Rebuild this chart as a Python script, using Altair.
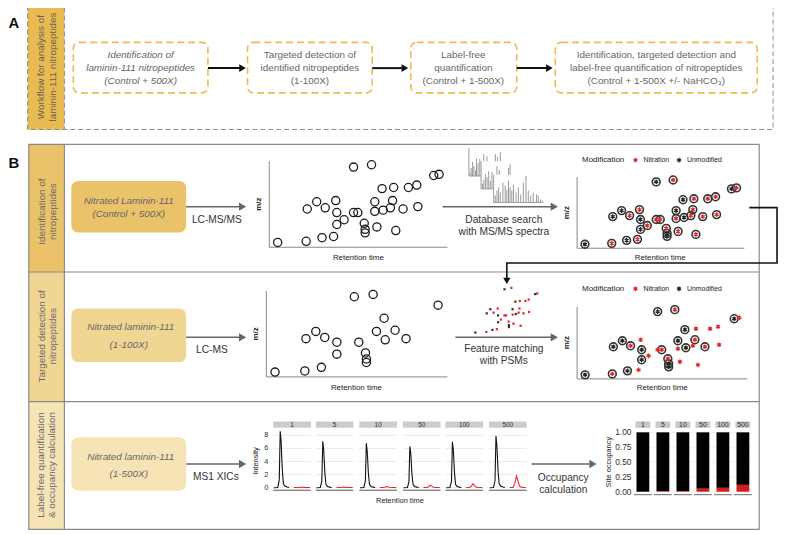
import altair as alt
import pandas as pd

FONT = "Liberation Sans"

# ---------------- data ----------------
# peptide features: relative retention time / relative m/z (0-100), modification, seen in targeted LC-MS
feat_rt = [4.7, 20.7, 29.6, 36.1, 21.3, 26.6, 31.4, 37.3, 37.9, 42.0, 37.9,
           47.3, 49.7, 47.3, 57.4, 53.3, 53.8, 53.8, 60.4, 59.2, 59.2, 63.9,
           63.3, 68.0, 69.2, 69.8, 71.0, 75.1, 78.1, 82.8, 83.4, 92.3, 95.3]
feat_mz = [5.6, 6.9, 11.1, 12.5, 44.4, 52.8, 45.8, 54.2, 40.3, 31.9, 26.4,
           40.3, 40.3, 93.1, 95.8, 27.8, 20.8, 16.7, 23.6, 52.8, 41.7, 43.1,
           68.1, 45.8, 54.2, 69.4, 19.4, 44.4, 69.4, 72.2, 47.2, 83.3, 84.7]
feat_mod = ["U", "N", "U", "N", "U", "U", "N", "N", "U", "N", "U",
            "N", "N", "U", "N", "N", "U", "U", "N", "U", "N", "U",
            "U", "N", "N", "N", "N", "N", "N", "N", "N", "U", "N"]
feat_detected = [1, 1, 1, 0, 1, 1, 1, 0, 1, 0, 1,
                 0, 1, 1, 1, 1, 1, 1, 0, 1, 0, 1,
                 1, 0, 1, 0, 0, 1, 0, 0, 0, 1, 0]

# MS/MS spectra: relative m/z and relative intensity
spec1_mz = [2, 4.6, 7.4, 10, 13.4, 15.4, 18.6, 22, 30, 36.6, 53.4, 58, 63.4]
spec1_int = [14, 29, 50, 36, 21, 64, 46, 61, 79, 71, 79, 68, 86]
spec2_mz = [2.6, 5.4, 8.6, 12, 15.4, 18.6, 22, 32, 36.6, 55.4, 58.6]
spec2_int = [18, 32, 54, 43, 64, 29, 61, 82, 68, 75, 89]
spec3_mz = [3.3, 6.7, 10, 13.3, 18.7, 23.3, 26.7, 30, 33.3, 36.7, 40, 45.3,
            50, 54.7, 60, 65.3, 70, 74.7, 80, 86.7, 90, 94.7, 98.7]
spec3_int = [25, 43, 54, 36, 71, 61, 46, 79, 54, 43, 64, 36,
             54, 29, 71, 96, 43, 25, 36, 29, 25, 11, 7]

# MS1 XICs per nitration level
conc = ["1", "5", "10", "50", "100", "500"]
xic_rt_unmod = [0.2, 1.2, 1.6, 1.85, 2.1, 2.4, 2.7, 3.1, 3.7, 4.2]
xic_unmod = {
    "1":   [0, 0.05, 1.2, 8.6, 7.0, 2.8, 0.6, 0.25, 0.1, 0.05],
    "5":   [0, 0.05, 1.0, 7.1, 5.8, 2.3, 0.5, 0.2, 0.1, 0.05],
    "10":  [0, 0.05, 1.0, 6.8, 5.5, 2.2, 0.5, 0.2, 0.1, 0.05],
    "50":  [0, 0.05, 0.9, 6.3, 5.2, 2.1, 0.5, 0.2, 0.1, 0.05],
    "100": [0, 0.05, 1.0, 7.0, 5.7, 2.3, 0.5, 0.2, 0.1, 0.05],
    "500": [0, 0.05, 1.1, 7.9, 6.4, 2.6, 0.6, 0.25, 0.1, 0.05],
}
xic_rt_nitro = [5.5, 6.4, 6.9, 7.3, 7.7, 8.1, 8.8, 9.8]
xic_nitro = {
    "1":   [0.05, 0.05, 0.06, 0.08, 0.07, 0.06, 0.05, 0.05],
    "5":   [0.05, 0.05, 0.07, 0.10, 0.08, 0.06, 0.05, 0.05],
    "10":  [0.05, 0.05, 0.10, 0.18, 0.12, 0.07, 0.05, 0.05],
    "50":  [0.03, 0.05, 0.20, 0.40, 0.25, 0.08, 0.04, 0.03],
    "100": [0.03, 0.05, 0.25, 0.60, 0.35, 0.10, 0.04, 0.03],
    "500": [0.03, 0.06, 0.70, 1.80, 1.10, 0.25, 0.05, 0.03],
}
xic_ticks = [0, 2, 4, 6, 8]

# site occupancy (nitrated fraction)
occupancy = [0.0, 0.01, 0.01, 0.05, 0.065, 0.115]
occ_ticks = [0, 0.25, 0.5, 0.75, 1.0]
occ_labels = ["0.00", "0.25", "0.50", "0.75", "1.00"]

# ---------------- canvas helpers (layout) ----------------
W, H = 779, 526
OX, OY = 8, 8
GOLD1, GOLD2, GOLD3 = "#E9C26A", "#F0D593", "#F6E4B7"
RED = "#E3262B"
ASTER = "M0,-1L0,1M-0.87,-0.5L0.87,0.5M-0.87,0.5L0.87,-0.5"


def cx(f):
    return alt.X(f, type="quantitative", axis=None,
                 scale=alt.Scale(domain=[OX, OX + W], range=[0, W], nice=False, zero=False))


def cy(f):
    return alt.Y(f, type="quantitative", axis=None,
                 scale=alt.Scale(domain=[OY, OY + H], range=[0, H], nice=False, zero=False))


def lin(f, d0, d1, r0, r1, off, ch):
    sc = alt.Scale(domain=[d0, d1], range=[r0 - off, r1 - off], nice=False, zero=False)
    return ch(f, type="quantitative", axis=None, scale=sc)


layers = []


def texts(rows, **kw):
    df = pd.DataFrame(rows, columns=["x", "y", "t"])
    base = dict(font=FONT, baseline="middle", align="center", color="#333", fontSize=10)
    base.update(kw)
    layers.append(alt.Chart(df).mark_text(**base).encode(x=cx("x"), y=cy("y"), text="t:N"))


def rects(rows, **kw):
    df = pd.DataFrame(rows, columns=["x", "x2", "y", "y2"])
    layers.append(alt.Chart(df).mark_rect(**kw).encode(x=cx("x"), x2="x2:Q", y=cy("y"), y2="y2:Q"))


def rules(rows, **kw):
    df = pd.DataFrame(rows, columns=["x", "x2", "y", "y2"])
    layers.append(alt.Chart(df).mark_rule(**kw).encode(x=cx("x"), x2="x2:Q", y=cy("y"), y2="y2:Q"))


def points(rows, **kw):
    df = pd.DataFrame(rows, columns=["x", "y"])
    layers.append(alt.Chart(df).mark_point(opacity=1, **kw).encode(x=cx("x"), y=cy("y")))


def arrows(rows, color, width, size):
    rules([(a, b - 5, y, y) for a, b, y in rows], color=color, strokeWidth=width)
    points([(b - 4, y) for a, b, y in rows], shape="triangle-right", filled=True, color=color, size=size)


# ---------------- panel A ----------------
rects([(28, 781, 2, 128)], fillOpacity=0, stroke="#8c8c8c", strokeWidth=1, strokeDash=[5, 3])
rects([(28, 65, 2, 128)], fill="#E8BB52", stroke="#8c8c8c", strokeWidth=1, strokeDash=[5, 3])
texts([(41, 65, "Workflow for analysis of"), (54, 65, "laminin-111 nitropeptides")],
      angle=270, color="#6b604c", fontSize=10)
boxA = [(74, 210), (250, 376), (415, 522), (561, 765)]
rects([(a, b, 40, 91) for a, b in boxA], fill="white", stroke="#EDBB50", strokeWidth=1.6,
      strokeDash=[7, 4], cornerRadius=6)
arrows([(210, 249, 66), (376, 413, 66), (522, 559, 66)], "#111", 2, 60)
texts([(142, 53, "Identification of"), (142, 66, "laminin-111 nitropeptides"),
       (142, 79, "(Control + 500X)")], color="#666", fontStyle="italic")
texts([(313, 53, "Targeted detection of"), (313, 66, "identified nitropeptides"), (313, 79, "(1-100X)"),
       (468, 53, "Label-free"), (468, 66, "quantification"), (468, 79, "(Control + 1-500X)"),
       (663, 53, "Identification, targeted detection and"),
       (663, 66, "label-free quantification of nitropeptides"),
       (663, 79, "(Control + 1-500X +/- NaHCO\u2083)")], color="#666")
texts([(8.5, 20, "A"), (8.5, 162, "B")], align="left", fontWeight="bold", fontSize=15, color="#111")

# ---------------- panel B frame ----------------
rects([(29, 65, 143, 272)], fill=GOLD1)
rects([(29, 65, 272, 403)], fill=GOLD2)
rects([(29, 65, 403, 532)], fill=GOLD3)
rects([(29, 767, 143, 532)], fillOpacity=0, stroke="#8a8a8a", strokeWidth=1.2)
rules([(29, 767, 272, 272), (29, 767, 403, 403), (65, 65, 143, 532)], color="#8a8a8a", strokeWidth=1.2)
texts([(42, 211, "Identification of"), (53, 211, "nitropeptides"),
       (42, 337, "Targeted detection of"), (53, 337, "nitropeptides"),
       (41, 467, "Label-free quantification"), (52, 467, "& occupancy calculation")],
      angle=270, color="#6a6a6a", fontSize=10)
rects([(72, 188, 180, 232)], fill=GOLD1, cornerRadius=7)
rects([(72, 188, 309, 363)], fill=GOLD2, cornerRadius=7)
rects([(72, 188, 439, 493)], fill=GOLD3, cornerRadius=7)
texts([(130, 200, "Nitrated Laminin-111"), (130, 213, "(Control + 500X)"),
       (132, 328, "Nitrated laminin-111"), (130, 346, "(1-100X)"),
       (132, 459, "Nitrated laminin-111"), (130, 476, "(1-500X)")],
      color="#666", fontStyle="italic")
arrows([(188, 249, 206), (188, 249, 338), (188, 249, 466),
        (447, 564, 206), (460, 564, 338), (537, 603, 466)], "#666", 1.5, 70)
texts([(219, 219, "LC-MS/MS"), (214, 351, "LC-MS"), (218, 479, "MS1 XICs"),
       (509, 220, "Database search"), (509, 232, "with MS/MS spectra"),
       (509, 350, "Feature matching"), (509, 362, "with PSMs"),
       (569, 480, "Occupancy"), (569, 492, "calculation")], fontSize=10.3)

# connector from identification to targeted detection
con = pd.DataFrame({"x": [757, 785, 785, 512, 512], "y": [207, 207, 263, 263, 280], "o": [0, 1, 2, 3, 4]})
layers.append(alt.Chart(con).mark_line(color="#111", strokeWidth=1.6).encode(x=cx("x"), y=cy("y"), order="o:Q"))
points([(512, 281)], shape="triangle-down", filled=True, color="#111", size=55)

# ---------------- scatter panels ----------------
feat = pd.DataFrame({"rt": feat_rt, "mz": feat_mz, "mod": feat_mod, "det": feat_detected})


def scatter(df, xr, yr, **mk):
    layers.append(alt.Chart(df).mark_point(**mk).encode(
        x=lin("rt", 0, 100, xr[0], xr[1], OX, alt.X),
        y=lin("mz", 0, 100, yr[0], yr[1], OY, alt.Y)))


def frame(x0, x1, yb, yt, lab_x, lab_y):
    rules([(x0, x0, yt, yb), (x0, x1, yb, yb)], color="#888", strokeWidth=1)
    texts([(x0 - 10, (yt + yb) / 2, "m/z")], angle=270, fontSize=8, fontWeight="bold", color="#222")
    texts([(lab_x, lab_y, "Retention time")], fontSize=8, color="#222")


def legend(y):
    texts([(588, y, "Modification")], align="left", fontSize=8, color="#222")
    texts([(650, y, "Nitration"), (694, y, "Unmodified")], align="left", fontSize=7, color="#222")
    points([(642, y)], shape=ASTER, filled=False, color=RED, size=22, strokeWidth=1.3)
    points([(686, y)], shape=ASTER, filled=False, color="#222", size=22, strokeWidth=1.3)


# row 1 left: all features
frame(272, 452, 247, 160, 362, 258)
scatter(feat, (272, 452), (247, 160), shape="circle", filled=False, size=68, strokeWidth=1.3,
        color="#1a1a1a", opacity=1)
# row 1 right: identified with modification
frame(583, 752, 248, 176, 667, 258)
legend(159)
scatter(feat, (583, 752), (248, 176), shape="circle", filled=False, size=62, strokeWidth=1.6,
        color="#333", opacity=1)
scatter(feat[feat["mod"] == "N"], (583, 752), (248, 176), shape=ASTER, filled=False, size=22,
        strokeWidth=1.3, color=RED, opacity=1)
scatter(feat[feat["mod"] == "U"], (583, 752), (248, 176), shape=ASTER, filled=False, size=22,
        strokeWidth=1.3, color="#222", opacity=1)
# row 2 left: detected features
frame(269, 452, 378, 291, 360, 389)
scatter(feat[feat["det"] == 1], (269, 457), (378, 291), shape="circle", filled=False, size=68,
        strokeWidth=1.3, color="#1a1a1a", opacity=1)
# row 2 middle: PSM feature dots
for m, col in (("N", RED), ("U", "#333")):
    scatter(feat[feat["mod"] == m], (477, 546), (336, 286), shape="square", filled=True, size=5,
            color=col, opacity=1)
# row 2 right
frame(583, 755, 380, 307, 669, 389)
legend(289)
scatter(feat[feat["det"] == 1], (583, 755), (380, 307), shape="circle", filled=False, size=62,
        strokeWidth=1.6, color="#333", opacity=1)
scatter(feat[feat["mod"] == "N"], (583, 755), (380, 307), shape=ASTER, filled=False, size=22,
        strokeWidth=1.3, color=RED, opacity=1)
scatter(feat[feat["mod"] == "U"], (583, 755), (380, 307), shape=ASTER, filled=False, size=22,
        strokeWidth=1.3, color="#222", opacity=1)

# ---------------- stacked MS/MS spectra ----------------
spectra = [(spec1_mz, spec1_int, 473.7, 175.0), (spec2_mz, spec2_int, 486.0, 188.0),
           (spec3_mz, spec3_int, 498.7, 201.7)]
for k, (smz, sint, L0, B0) in enumerate(spectra):
    if k > 0:
        rects([(L0, L0 + 50, B0 - 28, B0)], fill="white")
    sdf = pd.DataFrame({"mz": smz, "i": sint, "z": [0] * len(smz)})
    layers.append(alt.Chart(sdf).mark_rule(color="#9a9a9a", strokeWidth=1).encode(
        x=lin("mz", 0, 100, L0, L0 + 50, OX, alt.X),
        y=lin("i", 0, 100, B0, B0 - 28, OY, alt.Y), y2="z:Q"))
    rules([(L0, L0, B0 - 28, B0), (L0, L0 + 50, B0, B0)], color="#999", strokeWidth=1)

# ---------------- XIC small multiples ----------------
xic_x = [276, 319, 363, 407, 450, 494]
XW = 38
for i, c in enumerate(conc):
    p = xic_x[i]
    grid = pd.DataFrame({"v": xic_ticks})
    layers.append(alt.Chart(grid).mark_rule(color="#e2e2e2", strokeWidth=0.8).encode(
        y=lin("v", 0, 8, 490, 437, OY, alt.Y), x=alt.value(p - OX), x2=alt.value(p + XW - OX)))
    for rts, vals, col in ((xic_rt_unmod, xic_unmod[c], "#111"), (xic_rt_nitro, xic_nitro[c], RED)):
        d = pd.DataFrame({"rt": rts, "i": vals})
        layers.append(alt.Chart(d).mark_line(color=col, strokeWidth=1.1).encode(
            x=lin("rt", 0, 10, p, p + XW, OX, alt.X),
            y=lin("i", 0, 8, 490, 437, OY, alt.Y)))
rects([(p, p + XW, 423, 429.5) for p in xic_x], fill="#cccccc")
texts([(p + XW / 2, 426.3, c) for p, c in zip(xic_x, conc)], fontSize=6.5, color="#333")
rules([(p, p + XW, 492.5, 492.5) for p in xic_x], color="#555", strokeWidth=1)
tdf = pd.DataFrame({"v": xic_ticks, "t": [str(v) for v in xic_ticks]})
layers.append(alt.Chart(tdf).mark_text(font=FONT, fontSize=7.5, align="right", baseline="middle",
                                       color="#333").encode(
    y=lin("v", 0, 8, 490, 437, OY, alt.Y), x=alt.value(271 - OX), text="t:N"))
texts([(259, 463, "Intensity")], angle=270, fontSize=7.5, color="#222")
texts([(404, 503, "Retention time")], fontSize=7.5, color="#222")

# ---------------- site occupancy bars ----------------
bx = alt.Scale(type="band", domain=conc, range=[643 - OX, 757 - OX], paddingInner=0.36, paddingOuter=0)
occ = pd.DataFrame({"c": conc, "lo": [0] * 6, "occ": occupancy, "one": [1] * 6})
og = pd.DataFrame({"v": occ_ticks, "t": occ_labels})
layers.append(alt.Chart(og).mark_rule(color="#ececec", strokeWidth=0.8).encode(
    y=lin("v", 0, 1, 494, 434, OY, alt.Y), x=alt.value(640 - OX), x2=alt.value(760 - OX)))
layers.append(alt.Chart(occ).mark_bar(color="black").encode(
    x=alt.X("c:N", scale=bx, axis=None, sort=None),
    y=lin("occ", 0, 1, 494, 434, OY, alt.Y), y2="one:Q"))
layers.append(alt.Chart(occ).mark_bar(color="#D7191C").encode(
    x=alt.X("c:N", scale=bx, axis=None, sort=None),
    y=lin("lo", 0, 1, 494, 434, OY, alt.Y), y2="occ:Q"))
layers.append(alt.Chart(occ).mark_bar(color="#c8c8c8", size=15).encode(
    x=alt.X("c:N", scale=bx, axis=None, sort=None),
    y=alt.value(423 - OY), y2=alt.value(429.5 - OY)))
layers.append(alt.Chart(occ).mark_bar(color="#666", size=18).encode(
    x=alt.X("c:N", scale=bx, axis=None, sort=None),
    y=alt.value(496.5 - OY), y2=alt.value(497.5 - OY)))
layers.append(alt.Chart(occ).mark_text(font=FONT, fontSize=7, color="#333", baseline="middle").encode(
    x=alt.X("c:N", scale=bx, axis=None, sort=None), y=alt.value(426.3 - OY), text="c:N"))
layers.append(alt.Chart(og).mark_text(font=FONT, fontSize=8.5, align="right", baseline="middle",
                                      color="#333").encode(
    y=lin("v", 0, 1, 494, 434, OY, alt.Y), x=alt.value(638 - OX), text="t:N"))
texts([(615, 464, "Site occupancy")], angle=270, fontSize=7.5, color="#222")

chart = (alt.layer(*layers)
         .resolve_scale(x="independent", y="independent")
         .properties(width=W, height=H, autosize=alt.AutoSizeParams(type="none"), padding=0)
         .configure_view(stroke=None))

chart.save("out.html", embed_options={"renderer": "svg", "actions": False})
